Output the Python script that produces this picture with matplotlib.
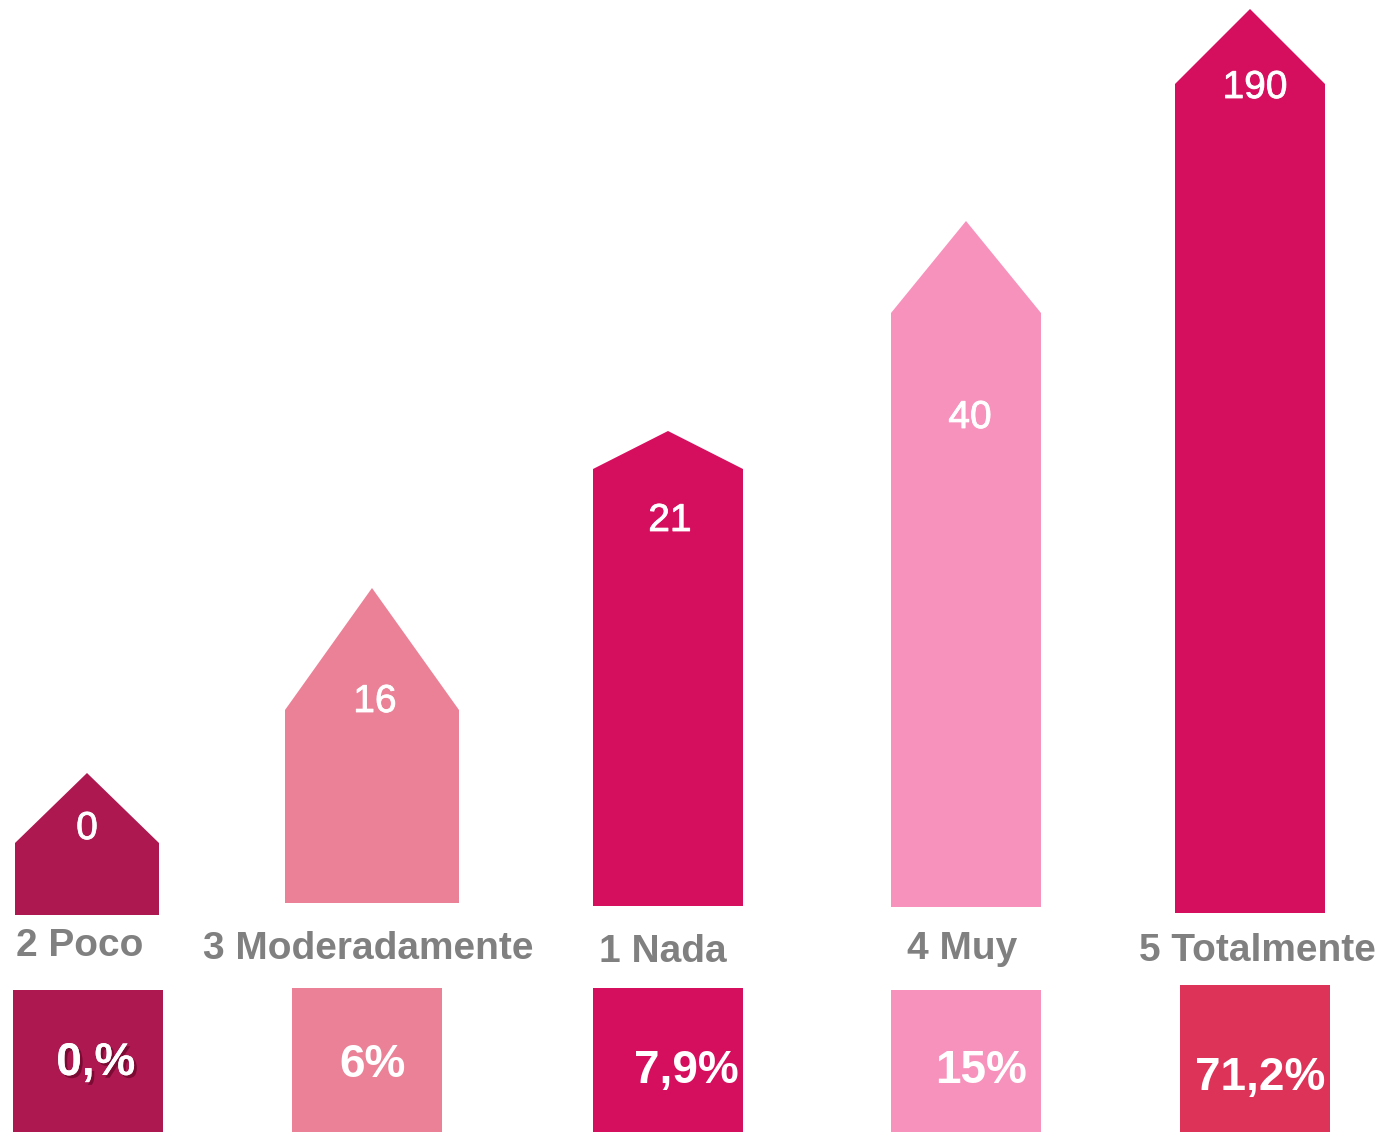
import matplotlib.pyplot as plt
from matplotlib.patches import Polygon, Rectangle
import matplotlib.patheffects as pe

# data
categories = ['2 Poco', '3 Moderadamente', '1 Nada', '4 Muy', '5 Totalmente']
counts = [0, 16, 21, 40, 190]
percents = ['0,%', '6%', '7,9%', '15%', '71,2%']
# visual height of each house body and its roof (the picture does not scale them to the counts)
house_heights = [72, 193, 437, 594, 829]
roof_heights = [70, 122, 38, 92, 75]

# layout (figure is laid out in pixel units, y going up)
house_x = [87, 372, 668, 966, 1250]
house_w = [144, 174, 150, 150, 150]
house_base = [217, 229, 226, 225, 219]
box_x = [87.5, 367, 668, 966, 1255]
box_top = [142, 144, 144, 142, 147]
label_y = [186, 183, 180, 183, 181]
label_x = [80, 368, 663, 962, 1257]
count_xy = [(87, 303), (375, 430), (670, 611), (970, 714), (1255, 1044)]
pct_xy = [(96, 69), (373, 67), (686, 61), (981, 61), (1260, 54)]

house_colors = ['#AD1850', '#EB8197', '#D60E5E', '#F792BC', '#D60E5E']
box_colors = ['#AD1850', '#EB8197', '#D60E5E', '#F792BC', '#DE3358']

fig = plt.figure(figsize=(13.76, 11.32), dpi=100)
ax = fig.add_axes([0, 0, 1, 1])
ax.set_xlim(0, 1376)
ax.set_ylim(0, 1132)
ax.axis('off')

for i in range(len(categories)):
    cx, w, b = house_x[i], house_w[i], house_base[i]
    eave = b + house_heights[i]
    peak = eave + roof_heights[i]
    pts = [(cx - w / 2, b), (cx + w / 2, b), (cx + w / 2, eave),
           (cx, peak), (cx - w / 2, eave)]
    ax.add_patch(Polygon(pts, closed=True, facecolor=house_colors[i], edgecolor='none'))

    ax.add_patch(Rectangle((box_x[i] - 75, 0), 150, box_top[i],
                           facecolor=box_colors[i], edgecolor='none'))

    ax.text(count_xy[i][0], count_xy[i][1], str(counts[i]), color='white',
            fontsize=28, family='Liberation Sans', ha='center', va='center',
            path_effects=[pe.withStroke(linewidth=0.6, foreground='white')])

    ax.text(label_x[i], label_y[i], categories[i], color='#808080',
            fontsize=28, fontweight='bold', family='Liberation Sans',
            ha='center', va='center')

    t = ax.text(pct_xy[i][0], pct_xy[i][1], percents[i], color='white',
                fontsize=33, fontweight='bold', family='Liberation Sans',
                ha='center', va='center')
    if i == 0:
        t.set_path_effects([pe.withSimplePatchShadow(offset=(2, -2),
                                                     shadow_rgbFace='#4a0018', alpha=0.5),
                            pe.Normal()])

fig.savefig('out.png', dpi=100)
